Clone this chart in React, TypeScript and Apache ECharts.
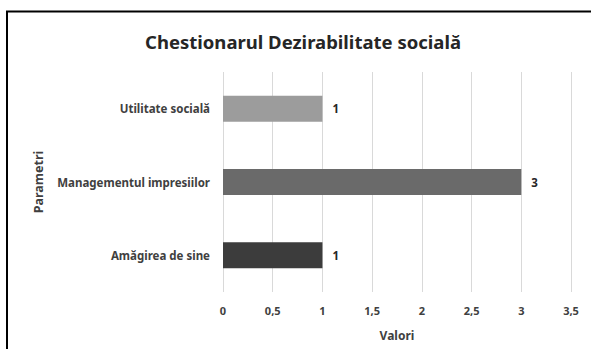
import React, { useEffect, useRef } from "react";
import * as echarts from "echarts";

const categories = ["Amăgirea de sine", "Managementul impresiilor", "Utilitate socială"];
const values = [1, 3, 1];
const barColors = ["#3c3c3c", "#6a6a6a", "#9c9c9c"];
const titleText = "Chestionarul Dezirabilitate socială";
const xName = "Valori";
const yName = "Parametri";

export default function App() {
  const ref = useRef<HTMLDivElement>(null);
  useEffect(() => {
    if (!ref.current) return;
    const chart = echarts.init(ref.current, null, { renderer: "svg" });
    const font = "'Noto Sans', sans-serif";
    chart.setOption({
      animation: false,
      backgroundColor: "#ffffff",
      textStyle: { fontFamily: font },
      title: {
        text: titleText,
        left: 298,
        top: 27,
        textAlign: "center",
        textStyle: { fontFamily: font, fontSize: 18.5, fontWeight: "bold", color: "#262626" },
      },
      graphic: [
        {
          type: "rect",
          shape: { x: 7, y: 11.5, width: 700, height: 400 },
          style: { fill: "none", stroke: "#000000", lineWidth: 2 },
          silent: true,
        },
      ],
      grid: { left: 223, right: 20, top: 72, bottom: 57, containLabel: false },
      xAxis: {
        type: "value",
        min: 0,
        max: 3.5,
        interval: 0.5,
        name: xName,
        nameLocation: "middle",
        nameGap: 37,
        nameTextStyle: { fontFamily: font, fontSize: 12, fontWeight: "bold", color: "#404040" },
        axisLine: { show: false },
        axisTick: { show: false },
        axisLabel: {
          margin: 13,
          fontFamily: font,
          fontSize: 11,
          fontWeight: "bold",
          color: "#404040",
          formatter: (v: number) => String(v).replace(".", ","),
        },
        splitLine: { show: true, lineStyle: { color: "#d9d9d9", width: 1 } },
      },
      yAxis: {
        type: "category",
        data: categories,
        name: yName,
        nameLocation: "middle",
        nameGap: 178,
        nameRotate: 90,
        nameTextStyle: { fontFamily: font, fontSize: 12.5, fontWeight: "bold", color: "#404040" },
        axisLine: { show: false },
        axisTick: { show: false },
        axisLabel: { margin: 13, fontFamily: font, fontSize: 11.5, fontWeight: "bold", color: "#404040" },
        splitLine: { show: false },
      },
      series: [
        {
          type: "bar",
          data: values.map((v, i) => ({ value: v, itemStyle: { color: barColors[i] } })),
          barWidth: 26,
          label: {
            show: true,
            position: "right",
            distance: 10,
            fontFamily: font,
            fontSize: 11.5,
            fontWeight: "bold",
            color: "#262626",
          },
        },
      ],
    });
    return () => chart.dispose();
  }, []);
  return <div ref={ref} style={{ position: "absolute", left: 0, top: 0, width: 591, height: 349 }} />;
}
